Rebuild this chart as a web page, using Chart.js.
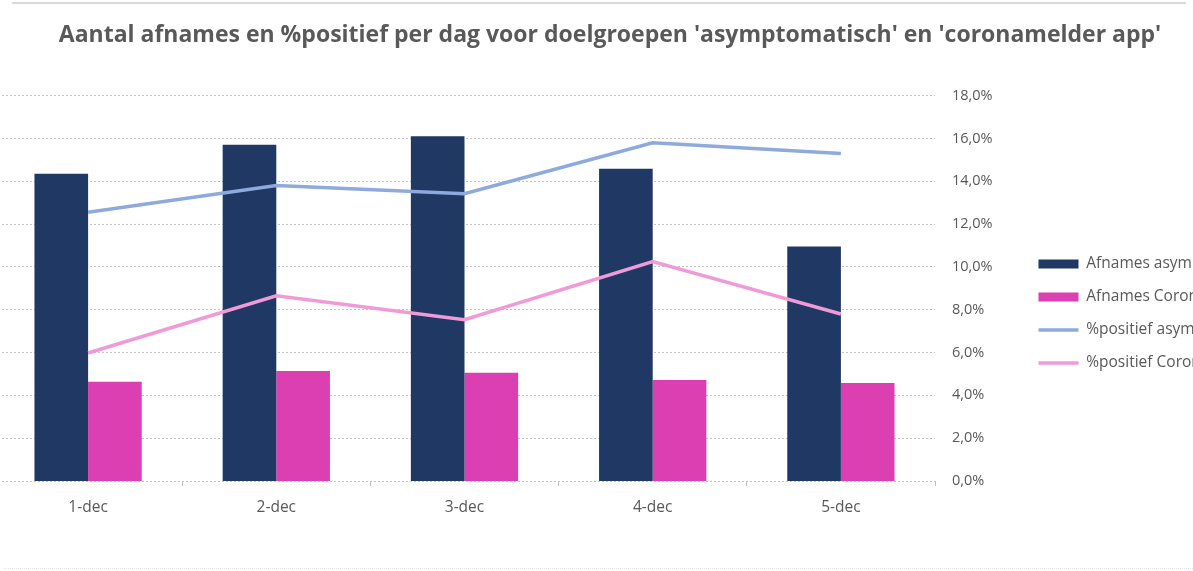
<!DOCTYPE html>
<html>
<head>
<meta charset="utf-8">
<script src="https://cdn.jsdelivr.net/npm/chart.js@4"></script>
<style>
    html, body { margin: 0; padding: 0; background: #fff; overflow: hidden; }
    #wrap { position: relative; width: 1193px; height: 571px; overflow: hidden; }
    #chart-box { position: absolute; left: -6px; top: 0; width: 1232px; height: 571px; }
    #top-line { position: absolute; left: 12px; top: 2px; width: 1174px; height: 2px; background: #d9d9d9; }
    #bottom-line { position: absolute; left: 4px; top: 568px; width: 1189px; border-top: 1px dotted #e2e2e2; }
</style>
</head>
<body>
<div id="wrap">
    <div id="top-line"></div>
    <div id="chart-box"><canvas id="results-chart" width="1232" height="571"></canvas></div>
    <div id="bottom-line"></div>
</div>
<script>
const days = ['1-dec', '2-dec', '3-dec', '4-dec', '5-dec'];

const afnamesAsymptomatisch = [14350, 15700, 16100, 14580, 10950];
const afnamesCoronamelder = [4630, 5140, 5050, 4720, 4580];

// % positief (right axis)
const positiefAsymptomatisch = [12.55, 13.8, 13.42, 15.8, 15.3];
const positiefCoronamelder = [5.98, 8.65, 7.53, 10.25, 7.8];

const pctTicks = [0, 2, 4, 6, 8, 10, 12, 14, 16, 18];

//-------------------------------------------------//

const grey = '#595959';
const fontFamily = '"Open Sans", "Noto Sans", sans-serif';

const ctx = document.getElementById('results-chart').getContext('2d');
const chart = new Chart(ctx, {
    type: 'bar',
    data: {
        labels: days,
        datasets: [{
            label: 'Afnames asymptomatisch',
            backgroundColor: '#1f3864',
            pointStyle: 'rect',
            yAxisID: 'y',
            order: 2,
            data: afnamesAsymptomatisch
        }, {
            label: 'Afnames Coronamelder',
            backgroundColor: '#dc3fb1',
            pointStyle: 'rect',
            yAxisID: 'y',
            order: 2,
            data: afnamesCoronamelder
        }, {
            type: 'line',
            label: '%positief asymptomatisch',
            borderColor: '#8eaadc',
            backgroundColor: '#8eaadc',
            borderWidth: 3.5,
            pointRadius: 0,
            pointStyle: 'line',
            yAxisID: 'y1',
            order: 1,
            data: positiefAsymptomatisch
        }, {
            type: 'line',
            label: '%positief Coronamelder',
            borderColor: '#f09ad7',
            backgroundColor: '#f09ad7',
            borderWidth: 3.5,
            pointRadius: 0,
            pointStyle: 'line',
            yAxisID: 'y1',
            order: 1,
            data: positiefCoronamelder
        }]
    },
    options: {
        responsive: false,
        animation: false,
        datasets: {
            bar: { categoryPercentage: 0.57, barPercentage: 1, borderWidth: 0 }
        },
        layout: { padding: 0 },
        plugins: {
            title: {
                display: true,
                text: "Aantal afnames en %positief per dag voor doelgroepen 'asymptomatisch' en 'coronamelder app'",
                color: grey,
                font: { family: fontFamily, size: 23, weight: 'bold' },
                padding: { top: 22, bottom: 46 }
            },
            legend: {
                position: 'right',
                align: 'center',
                maxWidth: 205,
                // empty legend title only pushes the items down a little
                title: { display: true, text: '', padding: { top: 22, bottom: 22 }, font: { size: 10 } },
                labels: {
                    usePointStyle: true,
                    pointStyleWidth: 40,
                    boxHeight: 9,
                    padding: 17.5,
                    color: grey,
                    font: { family: fontFamily, size: 15.5 },
                    sort: (a, b) => a.datasetIndex - b.datasetIndex
                }
            },
            tooltip: { enabled: false }
        },
        scales: {
            x: {
                grid: { display: true, drawOnChartArea: false, drawTicks: true, tickLength: 5, color: '#bfbfbf' },
                border: { display: false },
                ticks: { color: grey, padding: 12, font: { family: fontFamily, size: 15.5 } },
                afterFit: (scale) => { scale.height = 90; }
            },
            y: {
                display: false,
                min: 0,
                max: 18000
            },
            y1: {
                position: 'right',
                min: 0,
                max: 18,
                afterBuildTicks: (scale) => { scale.ticks = pctTicks.map(v => ({ value: v })); },
                grid: { color: '#c4c4c4', drawTicks: false },
                border: { display: false, dash: [2, 2] },
                ticks: {
                    color: grey,
                    padding: 17,
                    font: { family: fontFamily, size: 14.5 },
                    callback: (v) => v.toFixed(1).replace('.', ',') + '%'
                },
                afterFit: (scale) => { scale.width = 86; }
            }
        }
    }
});
</script>
</body>
</html>
